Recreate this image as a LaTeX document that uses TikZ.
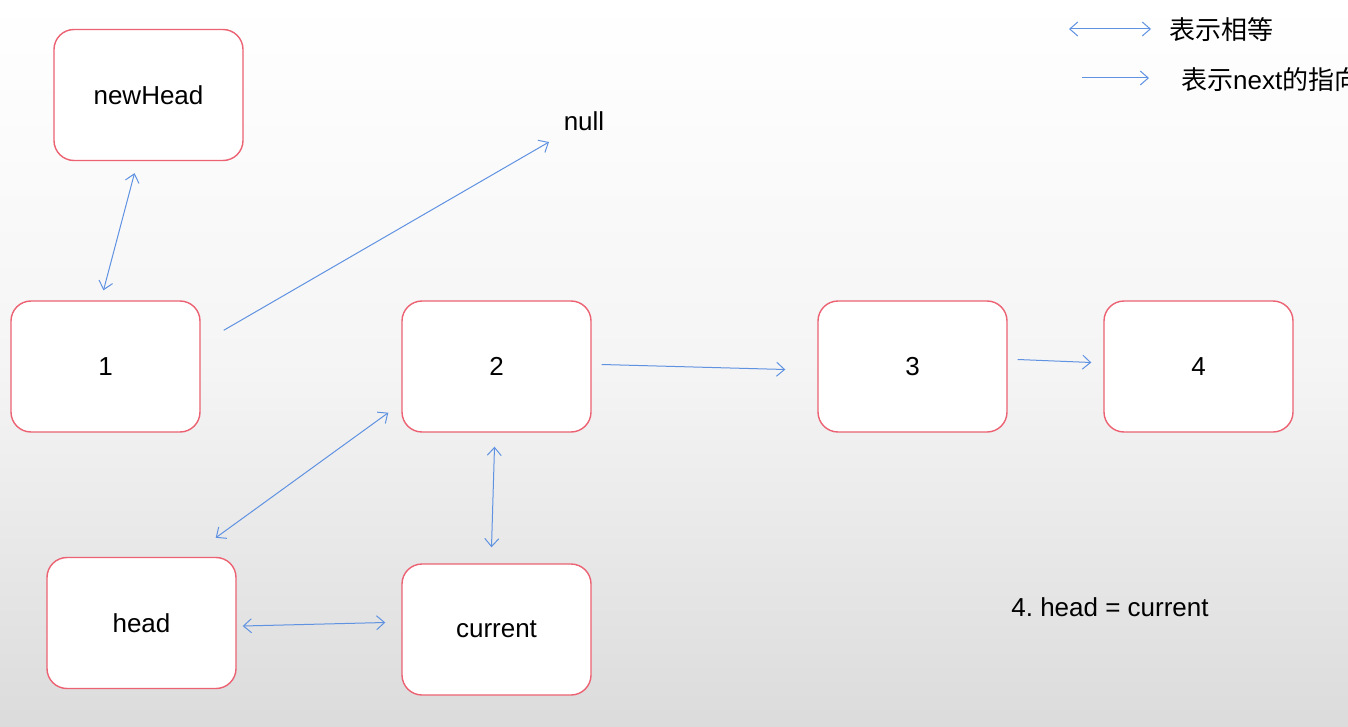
\documentclass[tikz,border=0pt]{standalone}
\usepackage{fontspec}
\setmainfont{Liberation Sans}
\newfontfamily\cjk{Noto Sans CJK SC}
\usetikzlibrary{arrows.meta}
\frenchspacing
\definecolor{boxred}{RGB}{236,98,114}
\definecolor{arrblue}{RGB}{96,146,226}
\tikzset{
  box/.style={draw=boxred, line width=1.4pt, fill=white, rounded corners=20pt,
    minimum width=189pt, minimum height=131pt, inner sep=0pt, font=\fontsize{26}{31}\selectfont},
  lbl/.style={inner sep=0pt, font=\fontsize{26}{31}\selectfont},
  conn/.style={draw=arrblue, line width=1pt, -{Straight Barb[length=8pt,width=14pt]}},
  bconn/.style={draw=arrblue, line width=1pt, {Straight Barb[length=8pt,width=14pt]}-{Straight Barb[length=8pt,width=14pt]}}
}
\begin{document}
\begin{tikzpicture}[x=1pt,y=-1pt]
\shade[top color=white, bottom color=black!14, middle color=black!4] (0,0) rectangle (1348,727);
\useasboundingbox (0,0) rectangle (1348,727);

\node[box] (newhead) at (148.5,95) {newHead};
\node[box] (one) at (105.5,366.5) {1};
\node[box] (two) at (496.5,366.5) {2};
\node[box] (three) at (912.5,366.5) {3};
\node[box] (four) at (1198.5,366.5) {4};
\node[box] (head) at (141.5,623) {head};
\node[box] (current) at (496.5,629.5) {current};

\node[lbl] (null) at (584,121) {null};
\node[lbl] (step4) at (1110,607) {4.\ head = current};

\node[lbl, anchor=west] (leg1) at (1169,30) {\cjk 表示相等};
\node[lbl, anchor=west] (leg2) at (1181,80) {\cjk 表示\rmfamily next\cjk 的指向};

\draw[bconn] ([shift={(-100pt,1pt)}]leg1.west) -- ([shift={(-18pt,1pt)}]leg1.west);
\draw[conn] ([shift={(-99pt,2pt)}]leg2.west) -- ([shift={(-32pt,2pt)}]leg2.west);

\draw[bconn] ([shift={(-14pt,-12pt)}]newhead.south) -- ([shift={(-2pt,10pt)}]one.north);
\draw[conn] ([shift={(23pt,-30pt)}]one.north east) -- ([shift={(-35pt,-21pt)}]null.center);
\draw[conn] ([shift={(10pt,2pt)}]two.east) -- ([shift={(-32pt,-3pt)}]three.west);
\draw[conn] ([shift={(10pt,7pt)}]three.east) -- ([shift={(-12pt,4pt)}]four.west);
\draw[bconn] ([shift={(-13pt,20pt)}]two.south west) -- ([shift={(-21pt,19pt)}]head.north east);
\draw[bconn] ([shift={(-2pt,-14pt)}]two.south) -- ([shift={(-5pt,16pt)}]current.north);
\draw[bconn] ([shift={(6pt,-3pt)}]head.east) -- ([shift={(-16pt,7pt)}]current.west);
\end{tikzpicture}
\end{document}
